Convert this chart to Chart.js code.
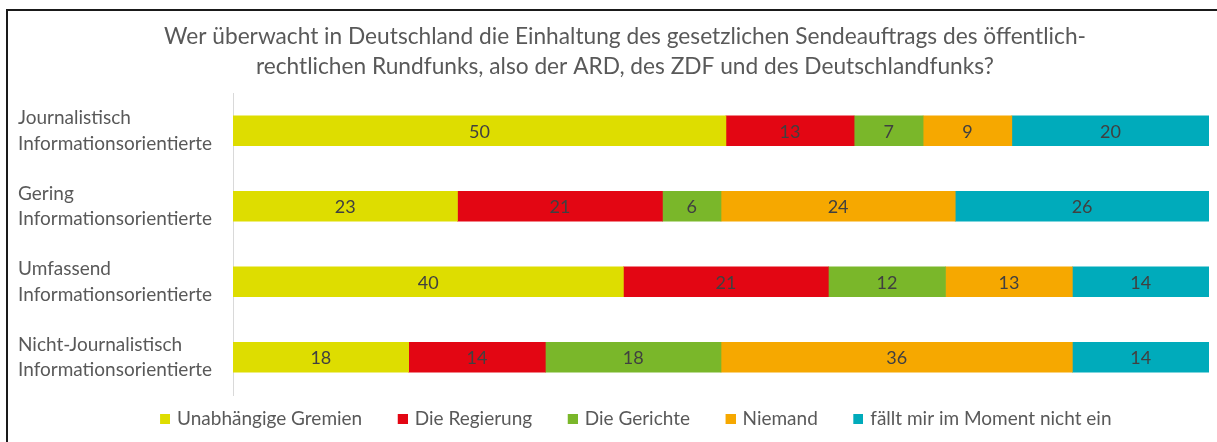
<!DOCTYPE html>
<html>
<head>
<meta charset="utf-8">
<script src="https://cdn.jsdelivr.net/npm/chart.js@4.4.0/dist/chart.umd.min.js"></script>
<style>
  html, body { margin: 0; padding: 0; background: #fff; }
  #wrap { position: relative; width: 1217px; height: 442px; overflow: hidden; background: #fff; }
  #chart { position: absolute; left: 0; top: 0; }
  #frame { position: absolute; left: 6px; top: 9px; width: 1300px; height: 500px; border: 2px solid #1a1a1a; pointer-events: none; }
</style>
</head>
<body>
<div id="wrap">
  <canvas id="chart" width="1240" height="442"></canvas>
  <div id="frame"></div>
</div>
<script>
const categories = [
  ["Journalistisch", "Informationsorientierte"],
  ["Gering", "Informationsorientierte"],
  ["Umfassend", "Informationsorientierte"],
  ["Nicht-Journalistisch", "Informationsorientierte"]
];
const seriesNames = ["Unabhängige Gremien", "Die Regierung", "Die Gerichte", "Niemand", "fällt mir im Moment nicht ein"];
const seriesColors = ["#dedd00", "#e30613", "#7ab72a", "#f6a800", "#00abbb"];

const gremien = [50, 23, 40, 18];
const regierung = [13, 21, 21, 14];
const gerichte = [7, 6, 12, 18];
const niemand = [9, 24, 13, 36];
const keineAntwort = [20, 26, 14, 14];

const series = [gremien, regierung, gerichte, niemand, keineAntwort];
// each row is drawn as 100 %, labels keep the answer values
const rowTotals = categories.map((c, i) => series.reduce((s, arr) => s + arr[i], 0));

const FONT = "Lato";

// legend marker: blank space in front, square close to the text
function marker(color) {
  const c = document.createElement("canvas");
  c.width = 34; c.height = 10;
  const g = c.getContext("2d");
  g.fillStyle = color;
  g.fillRect(24, 0, 10, 10);
  return c;
}

const valueLabels = {
  id: "valueLabels",
  afterDatasetsDraw(chart) {
    const ctx = chart.ctx;
    ctx.save();
    ctx.font = "18px " + FONT;
    ctx.fillStyle = "#404040";
    ctx.textAlign = "center";
    ctx.textBaseline = "middle";
    chart.data.datasets.forEach((ds, di) => {
      chart.getDatasetMeta(di).data.forEach((bar, i) => {
        const p = bar.getCenterPoint();
        ctx.fillText(ds.counts[i], p.x, p.y + 1);
      });
    });
    ctx.restore();
  }
};

const datasets = series.map((arr, k) => ({
  label: seriesNames[k],
  counts: arr,
  data: arr.map((v, i) => v / rowTotals[i] * 100),
  backgroundColor: seriesColors[k],
  borderWidth: 0,
  barThickness: 30
}));

new Chart(document.getElementById("chart"), {
  type: "bar",
  data: { labels: categories, datasets: datasets },
  plugins: [valueLabels],
  options: {
    indexAxis: "y",
    responsive: false,
    animation: false,
    layout: { padding: { left: 18, right: 8, top: 10, bottom: 4 } },
    scales: {
      x: { stacked: true, min: 0, max: 100, display: false },
      y: {
        stacked: true,
        grid: { display: false },
        border: { display: true, color: "#d9d9d9", width: 1 },
        ticks: {
          crossAlign: "far",
          color: "#595959",
          font: { family: FONT, size: 19, lineHeight: 1.33 }
        },
        afterFit(scale) { scale.width = 215; }
      },
      y2: {
        type: "category",
        position: "right",
        grid: { display: false },
        border: { display: false },
        ticks: { display: false },
        afterFit(scale) { scale.width = 23; }
      }
    },
    plugins: {
      title: {
        display: true,
        text: [
          "Wer überwacht in Deutschland die Einhaltung des gesetzlichen Sendeauftrags des öffentlich-",
          "rechtlichen Rundfunks, also der ARD, des ZDF und des Deutschlandfunks?"
        ],
        color: "#595959",
        font: { family: FONT, size: 22.7, weight: "normal", lineHeight: 1.3 },
        padding: { top: 12, bottom: 12 }
      },
      legend: {
        position: "bottom",
        labels: {
          usePointStyle: true,
          pointStyleWidth: 29,
          boxHeight: 10,
          padding: 14,
          color: "#595959",
          font: { family: FONT, size: 19 },
          generateLabels(chart) {
            return chart.data.datasets.map((ds, i) => ({
              text: ds.label,
              fillStyle: ds.backgroundColor,
              strokeStyle: ds.backgroundColor,
              lineWidth: 0,
              pointStyle: marker(ds.backgroundColor),
              fontColor: "#595959",
              hidden: false,
              datasetIndex: i
            }));
          }
        }
      },
      tooltip: { enabled: false }
    }
  }
});
</script>
</body>
</html>
